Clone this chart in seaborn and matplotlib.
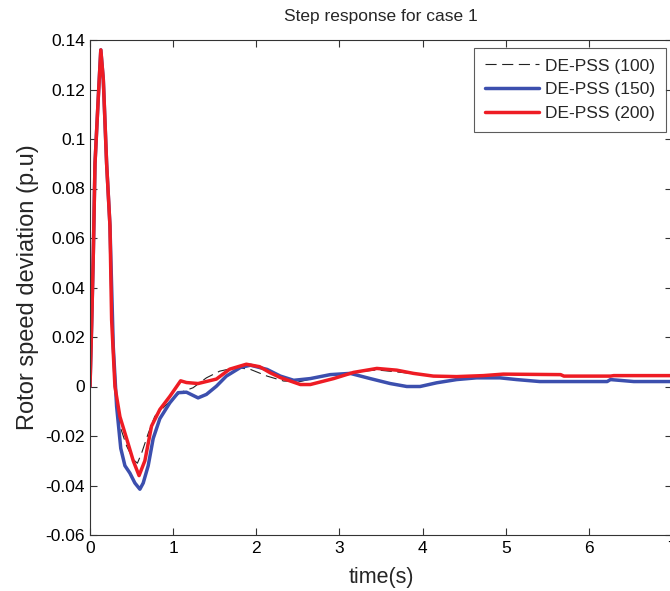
import numpy as np
import pandas as pd
import matplotlib
matplotlib.use("Agg")
import matplotlib.pyplot as plt
import seaborn as sns

# ---- data ----
t_200 = [0.0, 0.02, 0.04, 0.06, 0.10, 0.13, 0.16, 0.20, 0.24, 0.26, 0.30, 0.36, 0.44, 0.52, 0.59,
         0.66, 0.74, 0.84, 0.96, 1.09, 1.16, 1.30, 1.52, 1.68, 1.88, 2.04, 2.17, 2.29, 2.53, 2.65,
         2.93, 3.17, 3.45, 3.69, 3.89, 4.13, 4.41, 4.73, 4.97, 5.66, 5.70, 6.26, 6.30, 7.0]
v_200 = [0.0, 0.025, 0.054, 0.090, 0.117, 0.136, 0.124, 0.090, 0.065, 0.027, 0.0, -0.0122, -0.021, -0.030, -0.036,
         -0.030, -0.016, -0.0093, -0.004, 0.0023, 0.0016, 0.0012, 0.003, 0.007, 0.009, 0.008, 0.0055, 0.0036, 0.0008, 0.0008,
         0.0032, 0.0057, 0.0073, 0.0066, 0.0053, 0.0042, 0.004, 0.0044, 0.005, 0.0048, 0.0042, 0.0042, 0.0044, 0.0044]

t_150 = [0.0, 0.02, 0.04, 0.06, 0.10, 0.13, 0.16, 0.20, 0.24, 0.28, 0.32, 0.37, 0.42, 0.48, 0.54, 0.60,
         0.64, 0.70, 0.76, 0.84, 0.96, 1.06, 1.16, 1.30, 1.40, 1.52, 1.64, 1.81, 1.93, 2.13, 2.29,
         2.45, 2.65, 2.89, 3.13, 3.37, 3.61, 3.81, 3.97, 4.17, 4.41, 4.65, 4.93, 5.13, 5.41, 6.22,
         6.26, 6.54, 7.0]
v_150 = [0.0, 0.025, 0.054, 0.090, 0.117, 0.136, 0.124, 0.090, 0.065, 0.016, -0.008, -0.025, -0.032, -0.035, -0.039, -0.0415,
         -0.039, -0.032, -0.021, -0.013, -0.0066, -0.0025, -0.0023, -0.0046, -0.0032, 0.0001, 0.0042, 0.0077, 0.0086, 0.0069, 0.0042,
         0.0025, 0.0032, 0.0048, 0.0053, 0.0032, 0.0012, 0.0, 0.0, 0.0015, 0.0028, 0.0035, 0.0035, 0.0028, 0.002, 0.002,
         0.0028, 0.002, 0.002]

t_100 = [0.0, 0.02, 0.04, 0.06, 0.10, 0.13, 0.16, 0.20, 0.24, 0.28, 0.32, 0.36, 0.44, 0.52, 0.57, 0.62,
         0.70, 0.78, 0.92, 1.08, 1.24, 1.40, 1.56, 1.76, 1.93, 2.13, 2.33, 2.53, 2.80, 3.13, 3.45,
         3.77, 4.09, 4.53, 4.85, 5.66, 5.70, 6.26, 6.30, 7.0]
v_100 = [0.0, 0.025, 0.054, 0.090, 0.117, 0.136, 0.124, 0.090, 0.065, 0.016, -0.004, -0.016, -0.024, -0.0295, -0.031, -0.027,
         -0.019, -0.012, -0.0073, -0.0025, -0.0005, 0.0035, 0.0062, 0.0077, 0.0069, 0.0042, 0.0022, 0.002, 0.0042, 0.0056, 0.0067,
         0.0056, 0.0044, 0.004, 0.0048, 0.0048, 0.0042, 0.0042, 0.0044, 0.0044]

labels = ["DE-PSS (100)", "DE-PSS (150)", "DE-PSS (200)"]
x_ticks = [0, 1, 2, 3, 4, 5, 6, 7]
y_ticks = [-0.06, -0.04, -0.02, 0, 0.02, 0.04, 0.06, 0.08, 0.1, 0.12, 0.14]
y_tick_labels = ["-0.06", "-0.04", "-0.02", "0", "0.02", "0.04", "0.06", "0.08", "0.1", "0.12", "0.14"]

df = pd.concat([
    pd.DataFrame({"t": t_100, "v": v_100, "case": labels[0]}),
    pd.DataFrame({"t": t_150, "v": v_150, "case": labels[1]}),
    pd.DataFrame({"t": t_200, "v": v_200, "case": labels[2]}),
])

sns.set_theme(style="white")
plt.rcParams["font.family"] = ["Liberation Sans", "DejaVu Sans"]

fig = plt.figure(figsize=(6.70, 5.91), dpi=100)
ax = fig.add_axes([90 / 670, 56 / 591, 582 / 670, 495 / 591])

palette = {labels[0]: "#222222", labels[1]: "#3c4fae", labels[2]: "#ee1c24"}
styles = {labels[0]: (0, (10, 5)), labels[1]: "-", labels[2]: "-"}
widths = {labels[0]: 0.8, labels[1]: 2.5, labels[2]: 2.5}

for lab in labels:
    sub = df[df["case"] == lab]
    sns.lineplot(data=sub, x="t", y="v", ax=ax, color=palette[lab], linestyle=styles[lab],
                 linewidth=widths[lab], label=lab, sort=False, estimator=None)

ax.set_xlim(0, 7)
ax.set_ylim(-0.06, 0.14)
ax.set_xticks(x_ticks)
ax.set_xticklabels([str(v) for v in x_ticks])
ax.set_yticks(y_ticks)
ax.set_yticklabels(y_tick_labels)
ax.tick_params(direction="in", length=5, width=0.8, labelsize=12.5, top=True, right=True,
               bottom=True, left=True, colors="#333333", labelcolor="black")
ax.tick_params(axis="x", pad=4.5)
ax.tick_params(axis="y", pad=3.5)
for s in ax.spines.values():
    s.set_color("#333333")
    s.set_linewidth(0.8)

ax.set_xlabel("time(s)", fontsize=15.5, labelpad=8)
ax.set_ylabel("Rotor speed deviation (p.u)", fontsize=17, labelpad=5)
ax.set_title("Step response for case 1", fontsize=12.5, pad=14)

leg = ax.legend(loc="upper right", bbox_to_anchor=(666 / 670, 1 - 48 / 591), bbox_transform=fig.transFigure,
                fontsize=12.5, handlelength=3.1, frameon=True, fancybox=False, borderpad=0.6,
                labelspacing=0.5, handletextpad=0.4, borderaxespad=0)
leg.get_frame().set_edgecolor("#333333")
leg.get_frame().set_linewidth(0.8)

fig.savefig("out.png", dpi=100)
